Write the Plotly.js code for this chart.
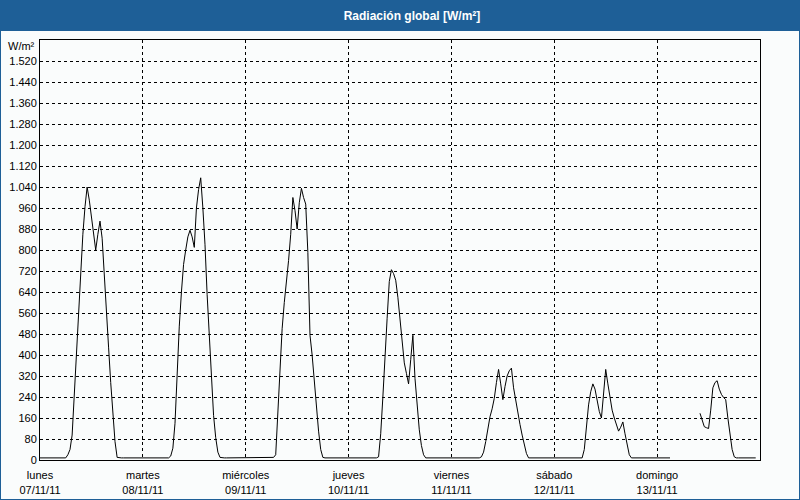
<!DOCTYPE html>
<html><head><meta charset="utf-8">
<script src="https://cdn.plot.ly/plotly-3.0.1.min.js"></script>
<style>
html,body{margin:0;padding:0;background:#fafcfc;}
#frame{width:798px;height:498px;border:1px solid #1e5f97;overflow:hidden;}
#chart{width:798px;height:498px;}
</style></head><body>
<div id="frame"><div id="chart"></div></div>
<script>
// ---- data (half-hourly global radiation, W/m²) ----
const dayStarts = ['2011-11-07','2011-11-08','2011-11-09','2011-11-10','2011-11-11','2011-11-12','2011-11-13'];
const dayNames  = ['lunes','martes','miércoles','jueves','viernes','sábado','domingo'];
const dayDates  = ['07/11/11','08/11/11','09/11/11','10/11/11','11/11/11','12/11/11','13/11/11'];
const stepMinutes = 30;

const lunes = [8,8,8,8,8,8,8,8,8,8,8,8,8,20,40,95,250,430,590,730,860,965,1040,990,930,860,800,860,910,845,720,560,430,295,180,70,10,8,8,8,8,8,8,8,8,8,8,8];
const martes = [8,8,8,8,8,8,8,8,8,8,8,8,8,15,45,140,330,510,640,745,800,850,875,850,810,960,1030,1075,960,820,630,460,310,170,85,30,10,8,8,8,8,8,8,8,8,8,8,8];
const miercoles = [8,8,8,8,8,8,8,8,8,8,8,8,8,10,20,180,370,500,600,670,760,860,1000,950,880,980,1035,1000,975,790,475,400,300,200,110,40,10,8,8,8,8,8,8,8,8,8,8,8];
const jueves = [8,8,8,8,8,8,8,8,8,8,8,8,8,8,12,100,240,410,540,680,725,710,685,620,530,450,370,330,290,382,475,310,195,115,55,20,8,8,8,8,8,8,8,8,8,8,8,8];
const viernes = [8,8,8,8,8,8,8,8,8,8,8,8,8,8,12,30,70,120,165,195,235,295,345,290,230,280,320,340,350,275,225,175,135,95,60,25,8,8,8,8,8,8,8,8,8,8,8,8];
const sabado = [8,8,8,8,8,8,8,8,8,8,8,8,8,8,40,130,210,260,290,270,230,185,160,260,345,290,230,190,160,135,110,125,145,100,55,20,8,8,8,8,8,8,8,8,8,8,8,8];
const domingo = [8,8,8,8,8,8,8,null,null,null,null,null,null,null,null,null,null,null,null,null,178,150,127,123,120,190,275,295,302,270,250,238,230,160,100,40,12,8,8,8,8,8,8,8,8,8,8];

const yTickValues = [0,80,160,240,320,400,480,560,640,720,800,880,960,1040,1120,1200,1280,1360,1440,1520];
const yTickLabels = ['0','80','160','240','320','400','480','560','640','720','800','880','960','1.040','1.120','1.200','1.280','1.360','1.440','1.520'];
const yUnit = 'W/m²';
const chartTitle = 'Radiación global [W/m²]';

// ---- build series ----
const days = [lunes, martes, miercoles, jueves, viernes, sabado, domingo];
function pad(n){return (n<10?'0':'')+n;}
const xs = [], ys = [];
days.forEach(function(vals, d){
  vals.forEach(function(v, i){
    const mins = i*stepMinutes;
    xs.push(dayStarts[d]+' '+pad(Math.floor(mins/60))+':'+pad(mins%60)+':00');
    ys.push(v);
  });
});

const FONT = 'Liberation Sans, Arial, sans-serif';
const trace = {
  x: xs, y: ys, type:'scatter', mode:'lines',
  line:{color:'#000', width:1}, connectgaps:false, hoverinfo:'skip'
};
const layout = {
  width:798, height:498,
  margin:{l:39, r:39, t:39, b:39, pad:0},
  paper_bgcolor:'#fafcfc', plot_bgcolor:'#fafcfc',
  font:{family:FONT, size:11, color:'#000'},
  showlegend:false,
  title:{text:chartTitle, font:{family:FONT, size:12, color:'#ffffff', weight:'bold'},
         x:0.515, xref:'container', xanchor:'center', y:1-15/498, yref:'container', yanchor:'middle'},
  xaxis:{type:'date', range:['2011-11-07 00:00:00','2011-11-14 00:00:00'],
         tickmode:'array', tickvals:dayStarts, ticktext:dayNames.map(function(n,i){return n+'<br>'+dayDates[i];}),
         showgrid:true, gridcolor:'#000', gridwidth:1, griddash:'3px,3px',
         showline:true, linecolor:'#000', linewidth:1, mirror:true, ticks:'', zeroline:false,
         ticklabelstandoff:5,
         tickfont:{family:FONT, size:11, color:'#000'}, fixedrange:true},
  yaxis:{range:[0,1600], tickmode:'array', tickvals:yTickValues, ticktext:yTickLabels,
         showgrid:true, gridcolor:'#000', gridwidth:1, griddash:'3px,3px',
         showline:true, linecolor:'#000', linewidth:1, mirror:true, ticks:'', zeroline:false,
         tickfont:{family:FONT, size:11, color:'#000'}, fixedrange:true},
  shapes:[{type:'rect', xref:'paper', yref:'paper', x0:-0.2, x1:1.2, y0:(460-31)/420, y1:1.3,
           fillcolor:'#1e5f97', line:{width:0}, layer:'below'}],
  annotations:[{text:yUnit, xref:'paper', yref:'paper', x:(37-40)/720, y:(460-46.5)/420,
                xanchor:'right', yanchor:'middle', showarrow:false, font:{family:FONT, size:11, color:'#000'}}]
};
Plotly.newPlot('chart', [trace], layout, {staticPlot:true, displayModeBar:false});
</script>
</body></html>
